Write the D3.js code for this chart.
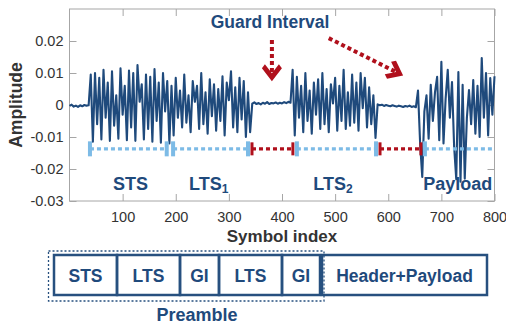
<!DOCTYPE html>
<html>
<head>
<meta charset="utf-8">
<script src="https://cdn.jsdelivr.net/npm/d3@7"></script>
<style>
  html, body { margin: 0; padding: 0; background: #fff; }
  svg { display: block; font-family: "Liberation Sans", Arial, Helvetica, sans-serif; }
</style>
</head>
<body>
<svg id="chart" width="506" height="324"></svg>
<script>
// ---- Received 802.11 frame: amplitude per symbol index (one value every 4 symbols) ----
const sampleStep = 4;

const leadNoise = [-0.0003, 0.0001, -0.0005, -0.0002, -0.0006, -0.0001, -0.0004, 0.0000, -0.0002, -0.0001];

const stsSamples = [
  0.0095, -0.0115, 0.0100, -0.0060, 0.0085, -0.0108, 0.0110, -0.0040, 0.0070, -0.0112,
  0.0105, -0.0065, 0.0030, -0.0105, 0.0115, -0.0030, 0.0060, -0.0110, 0.0108, -0.0070,
  0.0100, -0.0112, 0.0125, 0.0010, 0.0065, -0.0108, 0.0095, -0.0075, 0.0088, -0.0115,
  0.0112, -0.0050, 0.0070, -0.0118, 0.0100, -0.0020, 0.0075, -0.0120
];

const lts1Samples = [
  0.0060, -0.0095, 0.0085, -0.0040, 0.0045, -0.0070, 0.0095, -0.0055, 0.0030, -0.0085,
  0.0075, 0.0010, 0.0060, -0.0075, 0.0100, -0.0060, 0.0040, -0.0090, 0.0080, -0.0035,
  0.0065, -0.0080, 0.0050, -0.0050, 0.0090, -0.0095, 0.0070, 0.0015, 0.0105, -0.0070,
  0.0055, -0.0085, 0.0085, -0.0045, 0.0075, -0.0100, 0.0040, -0.0085
];

const guard1Samples = [
  0.0004, 0.0008, 0.0003, 0.0006, 0.0002, 0.0007, 0.0004, 0.0009, 0.0003, 0.0006,
  0.0005, 0.0008, 0.0004, 0.0007, 0.0005, 0.0009, 0.0006, 0.0010, 0.0007
];

const lts2Samples = [
  0.0110, -0.0095, 0.0088, -0.0040, 0.0060, -0.0085, 0.0100, -0.0050, 0.0045, -0.0090,
  0.0070, -0.0030, 0.0080, -0.0075, 0.0100, -0.0060, 0.0050, -0.0085, 0.0065, 0.0005,
  0.0085, -0.0080, 0.0060, -0.0050, 0.0110, -0.0075, 0.0040, -0.0065, 0.0095, -0.0055,
  0.0070, -0.0080, 0.0100, -0.0010, 0.0085, -0.0070, 0.0055, -0.0060, 0.0030, -0.0103
];

const guard2Samples = [
  0.0002, -0.0001, 0.0001, -0.0003, 0.0000, -0.0002, -0.0004, -0.0001, -0.0003, -0.0005,
  -0.0002, -0.0004, -0.0006, -0.0003, -0.0005, -0.0002, -0.0006, -0.0004, -0.0007
];

const payloadSamples = [
  0.0045, -0.0120, -0.0225, -0.0020, 0.0030, -0.0105, 0.0063, -0.0050, 0.0040, 0.0088,
  -0.0110, 0.0135, -0.0120, 0.0020, 0.0110, -0.0040, 0.0072, -0.0130, -0.0232, 0.0103,
  -0.0240, 0.0063, -0.0230, -0.0040, 0.0047, -0.0060, 0.0078, -0.0090, 0.0060, -0.0100,
  0.0147, -0.0040, 0.0100, -0.0095, 0.0084, -0.0030, 0.0090
];

// Field spans along the symbol axis (start, end) and their kind
const spanKinds  = ["field", "field", "guard", "field", "guard", "field"];
const spanStarts = [38.5, 195, 343.5, 428, 584.5, 669];
const spanEnds   = [183, 336, 420.5, 577, 661.5, 800];
const spanLevel  = -0.0137;

// Field names written under the spans: text, subscript, symbol position
const fieldLabels    = ["STS", "LTS", "LTS", "Payload"];
const fieldSubs      = ["", "1", "2", ""];
const fieldLabelPos  = [115, 262, 496, 731];
const fieldLabelLevel = -0.0267;

// Axis ticks
const xTicks = [100, 200, 300, 400, 500, 600, 700, 800];
const yTicks = [-0.03, -0.02, -0.01, 0, 0.01, 0.02];
const yTickLabels = ["-0.03", "-0.02", "-0.01", "0", "0.01", "0.02"];

// Guard-interval callout arrows (symbol, amplitude) from -> to
const arrowFrom = [[381, 0.0203], [488, 0.0209]];
const arrowTo   = [[381, 0.0074], [628, 0.0092]];

// Frame format diagram below the plot
const frameFields = ["STS", "LTS", "GI", "LTS", "GI", "Header+Payload"];

// ---- drawing ----
const navy = "#1f4a7c";
const lightBlue = "#7dbbe6";
const darkRed = "#b0101c";
const frameGray = "#a6a6a6";

const amplitude = [].concat(leadNoise, stsSamples, lts1Samples, guard1Samples,
                            lts2Samples, guard2Samples, payloadSamples);

const svg = d3.select("#chart");
const plot = { left: 69.5, right: 494.5, top: 9, bottom: 201 };

const x = d3.scaleLinear().domain([0, 800]).range([plot.left, plot.right]);
const y = d3.scaleLinear().domain([-0.03, 0.03]).range([plot.bottom, plot.top]);

// axes: ticks pointing inward, labels bottom/left only
const axisFont = (g) => g.selectAll("text")
  .attr("fill", "#333").style("font-size", "14.5px").style("font-family", '"Liberation Sans", Arial, sans-serif');

const gx = svg.append("g").attr("transform", `translate(0,${plot.bottom})`)
  .call(d3.axisBottom(x).tickValues(xTicks).tickFormat(d3.format("d"))
    .tickSizeInner(-7).tickSizeOuter(0).tickPadding(11));
gx.call(axisFont);
const gy = svg.append("g").attr("transform", `translate(${plot.left},0)`)
  .call(d3.axisLeft(y).tickValues(yTicks).tickFormat((d, i) => yTickLabels[i])
    .tickSizeInner(-7).tickSizeOuter(0).tickPadding(6));
gy.call(axisFont);
const gt = svg.append("g").attr("transform", `translate(0,${plot.top})`)
  .call(d3.axisTop(x).tickValues(xTicks).tickFormat("").tickSizeInner(-7).tickSizeOuter(0));
const gr = svg.append("g").attr("transform", `translate(${plot.right},0)`)
  .call(d3.axisRight(y).tickValues(yTicks).tickFormat("").tickSizeInner(-7).tickSizeOuter(0));
[gx, gy, gt, gr].forEach(g => {
  g.select(".domain").remove();
  g.selectAll(".tick line").attr("stroke", frameGray).attr("stroke-width", 1);
});
svg.append("rect")
  .attr("x", plot.left).attr("y", plot.top)
  .attr("width", plot.right - plot.left).attr("height", plot.bottom - plot.top)
  .attr("fill", "none").attr("stroke", frameGray).attr("stroke-width", 1);

// signal
const line = d3.line().x((d, i) => x(i * sampleStep)).y(d => y(d));
svg.append("path").datum(amplitude)
  .attr("d", line).attr("fill", "none")
  .attr("stroke", navy).attr("stroke-width", 2.1).attr("stroke-linejoin", "round");

// field spans: dotted line with end caps
const spans = spanStarts.map((s, i) => ({ start: s, end: spanEnds[i], kind: spanKinds[i] }));
const spanG = svg.append("g");
spans.forEach(sp => {
  const col = sp.kind === "guard" ? darkRed : lightBlue;
  spanG.append("line")
    .attr("x1", x(sp.start)).attr("x2", x(sp.end))
    .attr("y1", y(spanLevel)).attr("y2", y(spanLevel))
    .attr("stroke", col).attr("stroke-width", 3.2)
    .attr("stroke-dasharray", "4 3");
  const caps = sp.end < 800 ? [sp.start, sp.end] : [sp.start];
  caps.forEach(c => {
    const w = sp.kind === "guard" ? 3 : 4;
    const h = sp.kind === "guard" ? 13 : 15;
    spanG.append("rect")
      .attr("x", x(c) - w / 2).attr("y", y(spanLevel) - h / 2)
      .attr("width", w).attr("height", h).attr("fill", col);
  });
});

// field labels
fieldLabels.forEach((t, i) => {
  const txt = svg.append("text")
    .attr("x", x(fieldLabelPos[i])).attr("y", y(fieldLabelLevel))
    .attr("text-anchor", "middle").attr("fill", navy)
    .style("font-size", "18px").style("font-weight", "bold")
    .text(t);
  if (fieldSubs[i]) {
    txt.append("tspan").attr("dy", 3).style("font-size", "12px").text(fieldSubs[i]);
  }
});

// title of callout
svg.append("text").attr("x", 270).attr("y", 28)
  .attr("text-anchor", "middle").attr("fill", navy)
  .style("font-size", "17.5px").style("font-weight", "bold")
  .text("Guard Interval");

// callout arrows
arrowFrom.forEach((f, i) => {
  const x0 = x(f[0]), y0 = y(f[1]);
  const x1 = x(arrowTo[i][0]), y1 = y(arrowTo[i][1]);
  const ang = Math.atan2(y1 - y0, x1 - x0);
  const len = Math.hypot(x1 - x0, y1 - y0);
  const g = svg.append("g")
    .attr("transform", `translate(${x1},${y1}) rotate(${ang * 180 / Math.PI - 90})`);
  g.append("line")
    .attr("x1", 0).attr("y1", -len).attr("x2", 0).attr("y2", -9)
    .attr("stroke", darkRed).attr("stroke-width", 4).attr("stroke-dasharray", "4 3");
  g.append("path")
    .attr("d", "M0,0 L-10,-13 L-7,-17 L0,-8 L7,-17 L10,-13 Z")
    .attr("fill", darkRed);
});

// axis titles
svg.append("text").attr("x", 282).attr("y", 242)
  .attr("text-anchor", "middle").attr("fill", "#333")
  .style("font-size", "17px").style("font-weight", "bold")
  .text("Symbol index");
svg.append("text").attr("transform", "translate(22,105) rotate(-90)")
  .attr("text-anchor", "middle").attr("fill", "#333")
  .style("font-size", "17.5px").style("font-weight", "bold")
  .text("Amplitude");

// frame format diagram
const fieldWidths = [63, 63, 39, 63, 38, 165];
const fieldGaps   = [0, 0, 0, 0, 0, 2];
const boxTop = 255, boxH = 40;
let cursor = 54;
const diag = svg.append("g");
frameFields.forEach((name, i) => {
  cursor += fieldGaps[i];
  diag.append("rect")
    .attr("x", cursor).attr("y", boxTop).attr("width", fieldWidths[i]).attr("height", boxH)
    .attr("fill", "none").attr("stroke", "#27507f").attr("stroke-width", 2.5);
  diag.append("text")
    .attr("x", cursor + fieldWidths[i] / 2).attr("y", boxTop + 27)
    .attr("text-anchor", "middle").attr("fill", navy)
    .style("font-size", "17.5px").style("font-weight", "bold")
    .text(name);
  cursor += fieldWidths[i];
});
diag.append("rect")
  .attr("x", 48.5).attr("y", 251).attr("width", 275.5).attr("height", 50)
  .attr("fill", "none").attr("stroke", "#27507f").attr("stroke-width", 1.3)
  .attr("stroke-dasharray", "2 2");
diag.append("text").attr("x", 197).attr("y", 321)
  .attr("text-anchor", "middle").attr("fill", navy)
  .style("font-size", "18px").style("font-weight", "bold")
  .text("Preamble");
</script>
</body>
</html>
